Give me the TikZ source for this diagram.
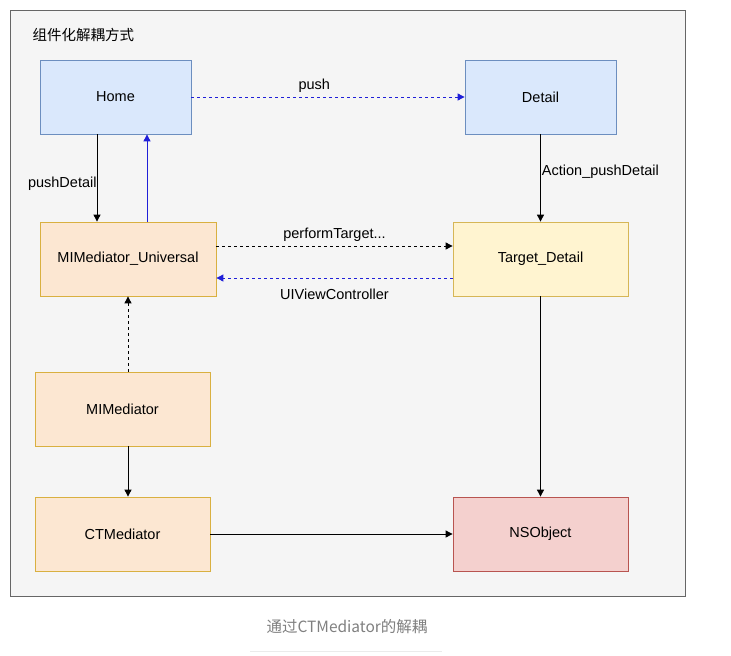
\documentclass[tikz,border=0pt]{standalone}
\usepackage{fontspec}
\setmainfont{Liberation Sans}
\newfontfamily\cjk{Noto Sans CJK SC}
\usetikzlibrary{arrows.meta}
\definecolor{blueF}{HTML}{DAE8FC}\definecolor{blueS}{HTML}{6C8EBF}
\definecolor{orF}{HTML}{FCE7D2}\definecolor{orS}{HTML}{D9B040}
\definecolor{yeF}{HTML}{FFF4D0}\definecolor{yeS}{HTML}{D6B656}
\definecolor{reF}{HTML}{F4D0CE}\definecolor{reS}{HTML}{B85450}
\definecolor{frameF}{HTML}{F5F5F5}\definecolor{frameS}{HTML}{666666}
\definecolor{arrblue}{HTML}{1F1FD8}
\begin{document}
\begin{tikzpicture}[x=1pt,y=-1pt,
  box/.style={draw,line width=0.8pt,minimum height=74pt,font=\fontsize{14.5}{17}\selectfont,inner sep=0pt},
  bluebox/.style={box,fill=blueF,draw=blueS,minimum width=151pt},
  orbox/.style={box,fill=orF,draw=orS,minimum width=175pt},
  yebox/.style={box,fill=yeF,draw=yeS,minimum width=175pt},
  rebox/.style={box,fill=reF,draw=reS,minimum width=175pt},
  conn/.style={line width=0.9pt,-{Triangle[length=7pt,width=7pt]}},
  lbl/.style={font=\fontsize{14.5}{17}\selectfont,inner sep=1pt,text=black}]
\useasboundingbox (0,0) rectangle (731,656);
\fill[white] (0,0) rectangle (731,656);
\node[draw=frameS,fill=frameF,line width=0.8pt,minimum width=675pt,minimum height=586pt,inner sep=0pt] (frame) at (347.5,303) {};
\node[anchor=west,font=\cjk\fontsize{14.5}{17}\selectfont] (title) at (29,35) {组件化解耦方式};
\node[bluebox] (home) at (115.5,97) {Home};
\node[bluebox] (detail) at (540.5,97) {Detail};
\node[orbox,minimum width=176pt] (univ) at (128,259) {MIMediator\_Universal};
\node[yebox] (target) at (540.5,259) {Target\_Detail};
\node[orbox] (mim) at (122.5,409) {MIMediator};
\node[orbox] (ctm) at (122.5,534) {CTMediator};
\node[rebox] (nso) at (540.5,534) {NSObject};
% arrows
\draw[conn] (home.south -| 97,0) -- node[lbl,left,pos=0.57,xshift=1pt]{pushDetail} (univ.north -| 97,0);
\draw[conn,arrblue] (univ.north -| 147,0) -- (home.south -| 147,0);
\draw[conn,arrblue,dash pattern=on 3pt off 3pt] (home.east) -- node[lbl,above,pos=0.45,yshift=3pt]{push} (detail.west);
\draw[conn] (detail.south) -- node[lbl,right,pos=0.43]{Action\_pushDetail} (target.north);
\draw[conn,dash pattern=on 3pt off 3pt] (univ.east |- 0,246) -- node[lbl,above,yshift=3pt]{performTarget...} (target.west |- 0,246);
\draw[conn,arrblue,dash pattern=on 3pt off 3pt] (target.west |- 0,278) -- node[lbl,below,yshift=-10pt]{UIViewController} (univ.east |- 0,278);
\draw[conn,dash pattern=on 3pt off 3pt] (mim.north -| 128,0) -- (univ.south -| 128,0);
\draw[conn] (mim.south -| 128,0) -- (ctm.north -| 128,0);
\draw[conn] (target.south) -- (nso.north);
\draw[conn] (ctm.east) -- (nso.west);
\node[font=\cjk\fontsize{15.5}{18}\selectfont,text=black!50] (cap) at (347,627) {通过CTMediator的解耦};
\draw[black!8,line width=0.8pt] (250,651) -- (442,651);
\end{tikzpicture}
\end{document}
